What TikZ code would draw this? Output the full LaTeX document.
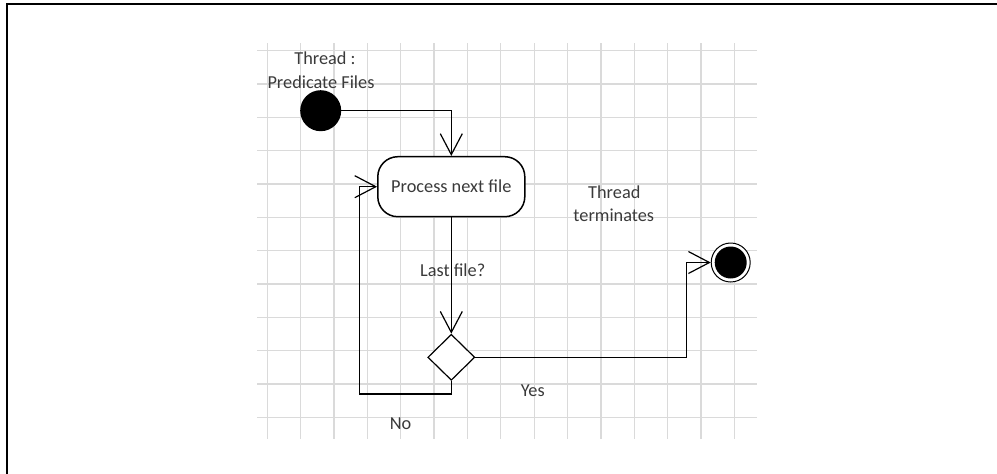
\documentclass[tikz,border=0pt]{standalone}
\usepackage{fontspec}
\setmainfont{Carlito}
\usetikzlibrary{arrows.meta,shapes.geometric}
\definecolor{gridgray}{HTML}{DADADA}
\definecolor{txtgray}{HTML}{3A3A3A}
\begin{document}
\begin{tikzpicture}[x=1pt,y=-1pt,
  gridline/.style={draw=gridgray,line width=1.3pt},
  conn/.style={draw=black,line width=1.4pt},
  arr/.style={conn,-{Straight Barb[length=21pt,width=22pt,line width=1.2pt]}},
  lbl/.style={font=\fontsize{18.3}{22}\selectfont,text=txtgray,inner sep=0pt,anchor=base},
  actbox/.style={draw=black,line width=1.5pt,fill=white,rectangle,rounded corners=20pt,
    minimum width=147pt,minimum height=60pt,inner sep=0pt,
    font=\fontsize{18.3}{22}\selectfont,text=txtgray},
  decbox/.style={draw=black,line width=1.2pt,fill=white,diamond,inner sep=0pt,
    minimum width=47pt,minimum height=46pt},
  startdot/.style={circle,fill=black,minimum size=41pt,inner sep=0pt},
  endring/.style={circle,draw=black,line width=1pt,fill=white,minimum size=39pt,inner sep=0pt}
]
\useasboundingbox (0,0) rectangle (997,474);
% frame
\draw[line width=2.5pt] (7,474) -- (7,4) -- (997,4);
% grid
\foreach \k in {0,...,14}{
  \draw[gridline] (267.3+33.36*\k,43.3) -- (267.3+33.36*\k,439);
}
\foreach \k in {0,...,11}{
  \draw[gridline] (257.3,50.7+33.33*\k) -- (756.5,50.7+33.33*\k);
}
% nodes
\node[startdot] (start) at (320.7,110.7) {};
\node[actbox] (proc) at (451.3,186.7) {Process next file};
\node[decbox] (dec) at (451.3,357.3) {};
\node[endring] (end) at (730.7,262.5) {};
\fill (end.center) circle (16pt);
\coordinate (nb) at (359.3,394);
\coordinate (ny) at (686.7,262.5);
% labels
\node[lbl] (t1) at (325,64.3) {Thread :};
\node[lbl] (t2) at (321,88.3) {Predicate Files};
\node[lbl] (t3) at (614.3,198.3) {Thread};
\node[lbl] (t4) at (613.8,221.5) {terminates};
\node[lbl] (t5) at (452.7,276.7) {Last file?};
\node[lbl] (t6) at (532.8,396) {Yes};
\node[lbl] (t7) at (400.5,429.3) {No};
% connectors
\draw[arr] (start.east) -| (proc.north);
\draw[arr] (proc.south) -- (dec.north);
\draw[arr] (dec.south) |- (nb) |- (proc.west);
\draw[arr] (dec.east) -| (ny) -- (end.west);
\end{tikzpicture}
\end{document}
